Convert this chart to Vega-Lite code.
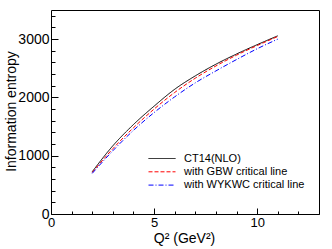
{
  "$schema": "https://vega.github.io/schema/vega-lite/v6.json",
  "width": 268,
  "height": 204,
  "autosize": {"type": "none"},
  "padding": {"left": 51, "top": 10, "right": 13, "bottom": 35},
  "background": "white",
  "config": {
    "font": "Liberation Sans",
    "view": {"stroke": "black", "strokeWidth": 1},
    "axis": {"domainColor": "black", "tickColor": "black", "labelColor": "black", "titleColor": "black", "grid": false, "titleFontWeight": "normal", "labelFont": "Liberation Sans", "titleFont": "Liberation Sans"}
  },
  "data": {
    "values": [
      {"series": "CT14(NLO)", "q2": 2, "entropy": 725},
      {"series": "CT14(NLO)", "q2": 3, "entropy": 1170},
      {"series": "CT14(NLO)", "q2": 4, "entropy": 1535},
      {"series": "CT14(NLO)", "q2": 5, "entropy": 1850},
      {"series": "CT14(NLO)", "q2": 6, "entropy": 2140},
      {"series": "CT14(NLO)", "q2": 7, "entropy": 2370},
      {"series": "CT14(NLO)", "q2": 8, "entropy": 2570},
      {"series": "CT14(NLO)", "q2": 9, "entropy": 2745},
      {"series": "CT14(NLO)", "q2": 10, "entropy": 2905},
      {"series": "CT14(NLO)", "q2": 11, "entropy": 3057},
      {"series": "with GBW critical line", "q2": 2, "entropy": 712},
      {"series": "with GBW critical line", "q2": 3, "entropy": 1120},
      {"series": "with GBW critical line", "q2": 4, "entropy": 1480},
      {"series": "with GBW critical line", "q2": 5, "entropy": 1800},
      {"series": "with GBW critical line", "q2": 6, "entropy": 2085},
      {"series": "with GBW critical line", "q2": 7, "entropy": 2330},
      {"series": "with GBW critical line", "q2": 8, "entropy": 2540},
      {"series": "with GBW critical line", "q2": 9, "entropy": 2725},
      {"series": "with GBW critical line", "q2": 10, "entropy": 2890},
      {"series": "with GBW critical line", "q2": 11, "entropy": 3045},
      {"series": "with WYKWC critical line", "q2": 2, "entropy": 697},
      {"series": "with WYKWC critical line", "q2": 3, "entropy": 1085},
      {"series": "with WYKWC critical line", "q2": 4, "entropy": 1435},
      {"series": "with WYKWC critical line", "q2": 5, "entropy": 1740},
      {"series": "with WYKWC critical line", "q2": 6, "entropy": 2010},
      {"series": "with WYKWC critical line", "q2": 7, "entropy": 2250},
      {"series": "with WYKWC critical line", "q2": 8, "entropy": 2455},
      {"series": "with WYKWC critical line", "q2": 9, "entropy": 2650},
      {"series": "with WYKWC critical line", "q2": 10, "entropy": 2835},
      {"series": "with WYKWC critical line", "q2": 11, "entropy": 3000}
    ]
  },
  "mark": {"type": "line", "strokeWidth": 1, "interpolate": "monotone"},
  "encoding": {
    "x": {
      "field": "q2", "type": "quantitative",
      "scale": {"domain": [0, 13], "nice": false, "zero": false},
      "axis": {
        "values": [0,1,2,3,4,5,6,7,8,9,10,11,12,13],
        "labelExpr": "datum.value % 5 === 0 ? datum.label : ''",
        "tickSize": {"condition": {"test": "datum.value % 5 === 0", "value": -6}, "value": -3},
        "labelPadding": 8,
        "labelFontSize": 13,
        "labelFlush": false,
        "labelOverlap": false,
        "domain": false,
        "title": "Q² (GeV²)",
        "titleFontSize": 14,
        "titleX": 133,
        "titleY": 28,
        "titleAnchor": null,
        "titleAlign": "center",
        "titleBaseline": "alphabetic"
      }
    },
    "y": {
      "field": "entropy", "type": "quantitative",
      "scale": {"domain": [0, 3500], "nice": false},
      "axis": {
        "values": [0,200,400,600,800,1000,1200,1400,1600,1800,2000,2200,2400,2600,2800,3000,3200,3400],
        "labelExpr": "datum.value % 1000 === 0 ? datum.label : ''",
        "format": "d",
        "tickSize": {"condition": {"test": "datum.value % 1000 === 0", "value": -7}, "value": -4},
        "labelPadding": 9,
        "labelFontSize": 14,
        "labelFlush": false,
        "labelOverlap": false,
        "domain": false,
        "title": "Information entropy",
        "titleFontSize": 14,
        "titleX": -36,
        "titleY": 101,
        "titleAngle": -90,
        "titleAlign": "center",
        "titleBaseline": "alphabetic"
      }
    },
    "color": {
      "field": "series", "type": "nominal",
      "scale": {"domain": ["CT14(NLO)", "with GBW critical line", "with WYKWC critical line"], "range": ["#000000", "#ff0000", "#0000ff"]},
      "legend": {
        "orient": "none", "legendX": 97, "legendY": 142,
        "title": null,
        "symbolType": "stroke", "symbolSize": 729, "symbolStrokeWidth": 1,
        "labelFontSize": 11, "labelOffset": 8, "clipHeight": 13, "rowPadding": 0.3,
        "labelColor": "black", "labelFont": "Liberation Sans"
      }
    },
    "strokeDash": {
      "field": "series", "type": "nominal",
      "scale": {"domain": ["CT14(NLO)", "with GBW critical line", "with WYKWC critical line"], "range": [[1, 0], [4, 2], [5, 2, 1, 2]]},
      "legend": {
        "orient": "none", "legendX": 97, "legendY": 142,
        "title": null,
        "symbolType": "stroke", "symbolSize": 729, "symbolStrokeWidth": 1,
        "labelFontSize": 11, "labelOffset": 8, "clipHeight": 13, "rowPadding": 0.3,
        "labelColor": "black", "labelFont": "Liberation Sans"
      }
    }
  }
}
